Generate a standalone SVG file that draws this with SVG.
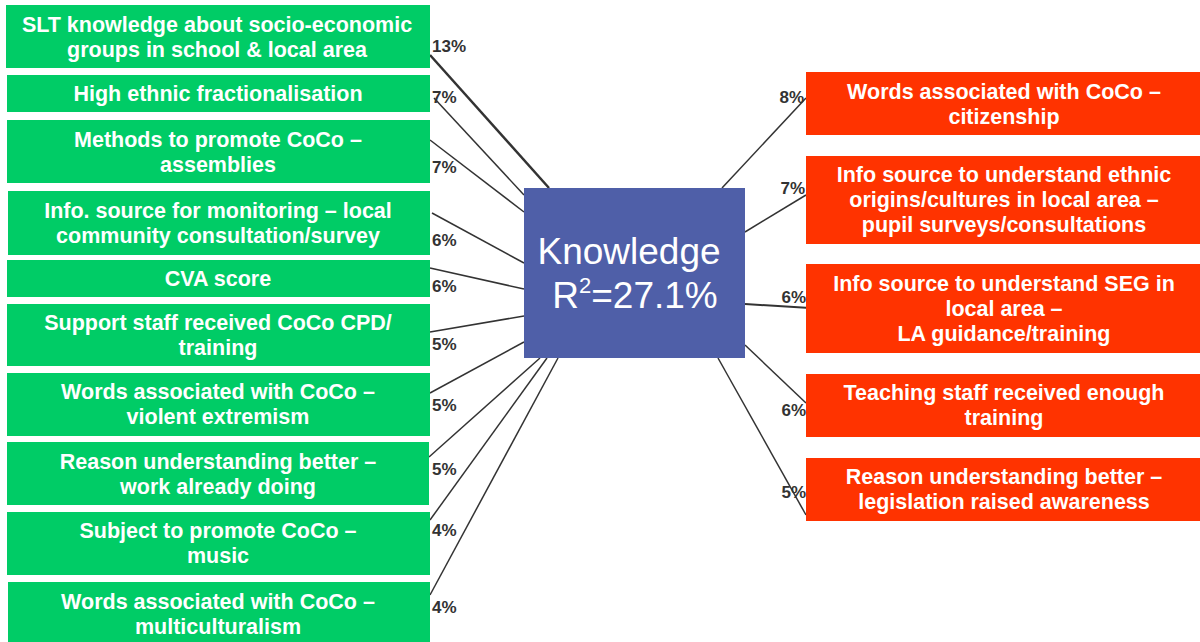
<svg xmlns="http://www.w3.org/2000/svg" width="1200" height="642" viewBox="0 0 1200 642">
<style>
.g{fill:#00CC66}
.r{fill:#FF3300}
.t{font-family:"Liberation Sans",Arial,sans-serif;font-weight:bold;font-size:21.5px;fill:#FFFFFF;text-anchor:middle}
.p{font-family:"Liberation Sans",Arial,sans-serif;font-weight:bold;font-size:17px;fill:#333333}
.pr{text-anchor:end}
.c{stroke:#333333;stroke-width:1.5;fill:none}
.k{font-family:"Liberation Sans",Arial,sans-serif;font-size:37px;fill:#FFFFFF;text-anchor:middle}
</style>
<rect width="1200" height="642" fill="#FFFFFF"/>
<g id="connectors">
<line class="c" x1="430" y1="55" x2="549" y2="188" style="stroke-width:2.5"/>
<line class="c" x1="434" y1="98" x2="524" y2="195"/>
<line class="c" x1="430" y1="140" x2="524" y2="212"/>
<line class="c" x1="432" y1="213" x2="524" y2="263"/>
<line class="c" x1="430" y1="268" x2="524" y2="289"/>
<line class="c" x1="430" y1="332" x2="524" y2="316"/>
<line class="c" x1="430" y1="393" x2="524" y2="342"/>
<line class="c" x1="429" y1="457" x2="540" y2="358"/>
<line class="c" x1="430" y1="520" x2="547" y2="358"/>
<line class="c" x1="430" y1="595" x2="558" y2="358"/>
<line class="c" x1="722" y1="188" x2="806" y2="98"/>
<line class="c" x1="745" y1="232" x2="806" y2="195"/>
<line class="c" x1="745" y1="304" x2="810" y2="308" style="stroke-width:2"/>
<line class="c" x1="745" y1="345" x2="806" y2="403"/>
<line class="c" x1="718" y1="358" x2="806" y2="515"/>
</g>
<g id="center">
<rect x="524" y="188" width="221" height="170" fill="#4F5FA8"/>
<text class="k" x="629" y="264">Knowledge</text>
<text class="k" x="635" y="308">R<tspan font-size="22" dy="-15">2</tspan><tspan dy="15">=27.1%</tspan></text>
</g>
<g id="l1"><rect class="g" x="6" y="5" width="424" height="63"/><text class="t" x="217" y="32">SLT knowledge about socio-economic</text><text class="t" x="217" y="57">groups in school &amp; local area</text></g>
<g id="l2"><rect class="g" x="7" y="75" width="423" height="37"/><text class="t" x="218" y="101">High ethnic fractionalisation</text></g>
<g id="l3"><rect class="g" x="7" y="120" width="423" height="63"/><text class="t" x="218" y="147">Methods to promote CoCo –</text><text class="t" x="218" y="172">assemblies</text></g>
<g id="l4"><rect class="g" x="8" y="191" width="422" height="64"/><text class="t" x="218" y="218">Info. source for monitoring – local</text><text class="t" x="218" y="243">community consultation/survey</text></g>
<g id="l5"><rect class="g" x="7" y="260" width="423" height="37"/><text class="t" x="218" y="286">CVA score</text></g>
<g id="l6"><rect class="g" x="7" y="304" width="423" height="62"/><text class="t" x="218" y="330">Support staff received CoCo CPD/</text><text class="t" x="218" y="355">training</text></g>
<g id="l7"><rect class="g" x="7" y="373" width="423" height="63"/><text class="t" x="218" y="399">Words associated with CoCo –</text><text class="t" x="218" y="424">violent extremism</text></g>
<g id="l8"><rect class="g" x="7" y="442" width="422" height="63"/><text class="t" x="218" y="469">Reason understanding better –</text><text class="t" x="218" y="494">work already doing</text></g>
<g id="l9"><rect class="g" x="7" y="512" width="423" height="63"/><text class="t" x="218" y="538">Subject to promote CoCo –</text><text class="t" x="218" y="563">music</text></g>
<g id="l10"><rect class="g" x="8" y="582" width="422" height="60"/><text class="t" x="218" y="609">Words associated with CoCo –</text><text class="t" x="218" y="634">multiculturalism</text></g>
<g id="r1"><rect class="r" x="806" y="72" width="394" height="63"/><text class="t" x="1004" y="99">Words associated with CoCo –</text><text class="t" x="1004" y="124">citizenship</text></g>
<g id="r2"><rect class="r" x="806" y="156" width="394" height="88"/><text class="t" x="1004" y="182">Info source to understand ethnic</text><text class="t" x="1004" y="207">origins/cultures in local area –</text><text class="t" x="1004" y="232">pupil surveys/consultations</text></g>
<g id="r3"><rect class="r" x="806" y="264" width="394" height="89"/><text class="t" x="1004" y="291">Info source to understand SEG in</text><text class="t" x="1004" y="316">local area –</text><text class="t" x="1004" y="341">LA guidance/training</text></g>
<g id="r4"><rect class="r" x="806" y="374" width="394" height="63"/><text class="t" x="1004" y="400">Teaching staff received enough</text><text class="t" x="1004" y="425">training</text></g>
<g id="r5"><rect class="r" x="806" y="458" width="394" height="63"/><text class="t" x="1004" y="484">Reason understanding better –</text><text class="t" x="1004" y="509">legislation raised awareness</text></g>
<g id="labels">
<text class="p" x="432" y="52">13%</text>
<text class="p" x="432" y="103">7%</text>
<text class="p" x="432" y="173">7%</text>
<text class="p" x="432" y="246">6%</text>
<text class="p" x="432" y="292">6%</text>
<text class="p" x="432" y="350">5%</text>
<text class="p" x="432" y="411">5%</text>
<text class="p" x="432" y="475">5%</text>
<text class="p" x="432" y="536">4%</text>
<text class="p" x="432" y="613">4%</text>
<text class="p pr" x="804" y="103">8%</text>
<text class="p pr" x="805" y="194">7%</text>
<text class="p pr" x="806" y="303">6%</text>
<text class="p pr" x="806" y="416">6%</text>
<text class="p pr" x="806" y="498">5%</text>
</g>
</svg>
